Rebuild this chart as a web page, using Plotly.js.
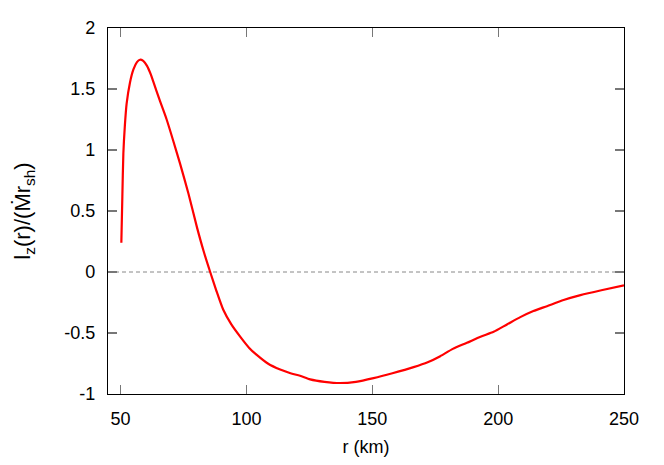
<!DOCTYPE html>
<html><head><meta charset="utf-8">
<script src="https://cdn.plot.ly/plotly-3.0.1.min.js"></script>
<style>html,body{margin:0;padding:0;background:#fff}</style>
</head><body><div id="plot" style="width:664px;height:465px"></div>
<script>
const r = [50.3, 50.7, 51.1, 51.7, 52.4, 53.7, 55.1, 56.5, 57.7, 59.0, 60.5, 62.0, 63.0, 65.5, 68.3, 71.0, 73.6, 77.0, 80.3, 83.0, 85.6, 88.0, 90.8, 94.0, 97.5, 101.0, 104.1, 108.5, 113.4, 117.5, 121.3, 125.3, 131.0, 137.2, 143.5, 150.5, 158.0, 166.4, 172.0, 177.0, 182.0, 187.6, 193.0, 198.2, 203.5, 208.8, 214.0, 219.4, 226.0, 232.7, 241.0, 250.0];
const lz = [0.24, 0.62, 0.97, 1.2, 1.38, 1.55, 1.66, 1.72, 1.74, 1.73, 1.69, 1.62, 1.56, 1.41, 1.25, 1.07, 0.89, 0.64, 0.37, 0.17, 0.0, -0.15, -0.31, -0.43, -0.53, -0.62, -0.68, -0.75, -0.80, -0.83, -0.85, -0.88, -0.90, -0.91, -0.90, -0.87, -0.83, -0.78, -0.74, -0.69, -0.63, -0.58, -0.53, -0.49, -0.43, -0.37, -0.32, -0.28, -0.23, -0.19, -0.15, -0.11];
const xTicks = [50, 100, 150, 200, 250];
const yTicks = [-1, -0.5, 0, 0.5, 1, 1.5, 2];
const yTickText = ['-1', '-0.5', '0', '0.5', '1', '1.5', '2'];

const axisCommon = {
  showline: true, linecolor: '#000', linewidth: 1.2, mirror: 'ticks',
  ticks: 'inside', ticklen: 9, tickcolor: '#777', tickwidth: 1.2,
  showgrid: false, zeroline: false,
  tickfont: {family: 'Liberation Sans, Arial, sans-serif', size: 18, color: '#000'},
  ticklabelstandoff: 8
};

const data = [{
  x: r, y: lz, type: 'scatter', mode: 'lines',
  line: {color: '#ff0000', width: 2.2, shape: 'spline', smoothing: 0.6},
  showlegend: false, hoverinfo: 'none'
}];

const layout = {
  width: 664, height: 465,
  margin: {l: 108, r: 40, t: 28, b: 71},
  paper_bgcolor: '#fff', plot_bgcolor: '#fff',
  xaxis: Object.assign({}, axisCommon, {
    range: [45, 250], tickvals: xTicks, ticktext: xTicks.map(String),
    title: {text: 'r (km)', font: {family: 'Liberation Sans, Arial, sans-serif', size: 18, color: '#000'}, standoff: 12}
  }),
  yaxis: Object.assign({}, axisCommon, {
    range: [-1, 2], tickvals: yTicks, ticktext: yTickText,
    title: {text: 'l<sub>z</sub>(r)/(Ṁr<sub>sh</sub>)', font: {family: 'Liberation Sans, Arial, sans-serif', size: 22, color: '#000'}, standoff: 27}
  }),
  shapes: [{type: 'line', xref: 'paper', x0: 0, x1: 1, yref: 'y', y0: 0, y1: 0,
            line: {color: '#888', width: 1, dash: '4px,3px'}, layer: 'below'}]
};

Plotly.newPlot('plot', data, layout, {staticPlot: true, displayModeBar: false});
</script></body></html>
